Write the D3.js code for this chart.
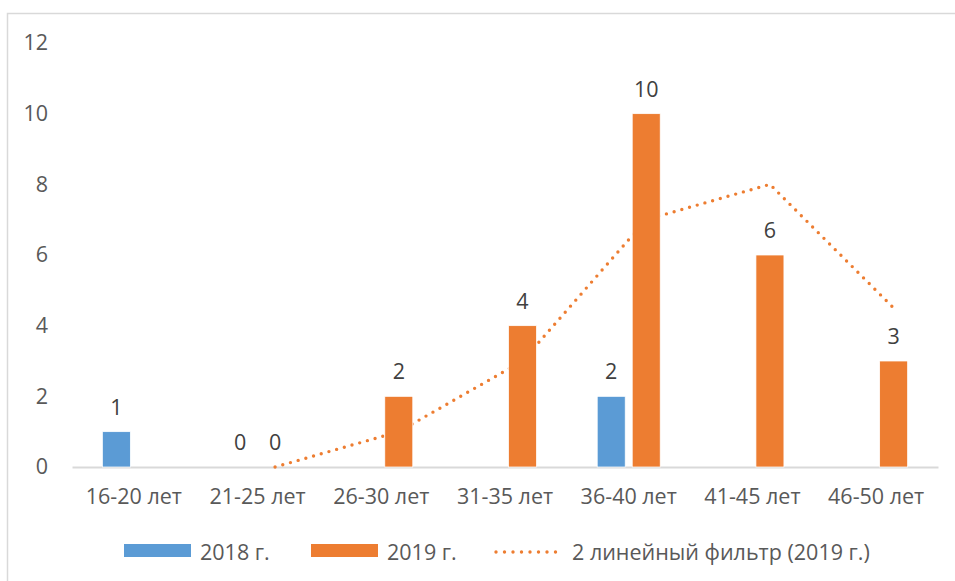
<!DOCTYPE html>
<html>
<head>
<meta charset="utf-8">
<script src="https://cdn.jsdelivr.net/npm/d3@7"></script>
<style>
  body { margin: 0; background: #fff; }
  text { font-family: "Open Sans", sans-serif; }
</style>
</head>
<body>
<div id="chart"></div>
<script>
const categories = ['16-20 лет', '21-25 лет', '26-30 лет', '31-35 лет', '36-40 лет', '41-45 лет', '46-50 лет'];
const values2018 = [1, 0, null, null, 2, null, null];
const values2019 = [null, 0, 2, 4, 10, 6, 3];
// 2-period moving average of 2019 as shown on the chart
const trend2019 = [null, 0, 1, 3, 7, 8, 4.5];
const yTicks = [0, 2, 4, 6, 8, 10, 12];
const seriesNames = ['2018 г.', '2019 г.'];
const trendName = '2 линейный фильтр (2019 г.)';
const colors = ['#5b9bd5', '#ed7d31'];

const width = 955, height = 581;
const margin = { left: 72, right: 17, top: 43, bottom: 114 };
const fontSize = '21.5px';

const svg = d3.select('#chart').append('svg')
  .attr('width', width)
  .attr('height', height);

// chart area border
svg.append('rect')
  .attr('x', 7.5).attr('y', 13.5)
  .attr('width', width + 10).attr('height', height + 10)
  .attr('fill', 'none')
  .attr('stroke', '#d9d9d9')
  .attr('stroke-width', 1.5);

const x0 = d3.scaleBand()
  .domain(categories)
  .range([margin.left, width - margin.right]);

const x1 = d3.scaleBand()
  .domain(seriesNames)
  .range([0, 63])
  .paddingInner(0.2);

const groupOffset = (x0.bandwidth() - 63) / 2;

const y = d3.scaleLinear()
  .domain([0, 12])
  .range([height - margin.bottom, margin.top]);

// y axis labels, no line
const yAxis = svg.append('g')
  .attr('transform', `translate(${margin.left - 10}, 0)`)
  .call(d3.axisLeft(y).tickValues(yTicks).tickSize(0).tickPadding(14));
yAxis.select('.domain').remove();
yAxis.selectAll('text')
  .attr('fill', '#595959')
  .style('font-size', fontSize)
  .style('font-family', '"Open Sans", sans-serif');

// x axis
const xAxis = svg.append('g')
  .attr('transform', `translate(0, ${y(0)})`)
  .call(d3.axisBottom(x0).tickSize(0).tickPadding(22));
xAxis.select('.domain').attr('stroke', '#d9d9d9').attr('stroke-width', 2);
xAxis.selectAll('text')
  .attr('fill', '#595959')
  .style('font-size', fontSize)
  .style('font-family', '"Open Sans", sans-serif');

// trend line (drawn under the bars)
const trendPts = categories.map((c, i) => ({ c, v: trend2019[i] })).filter(d => d.v !== null);
const line = d3.line()
  .x(d => x0(d.c) + groupOffset + x1('2019 г.') + x1.bandwidth() / 2)
  .y(d => y(d.v));

svg.append('path')
  .datum(trendPts)
  .attr('d', line)
  .attr('fill', 'none')
  .attr('stroke', colors[1])
  .attr('stroke-width', 3.4)
  .attr('stroke-linecap', 'round')
  .attr('stroke-dasharray', '0 8');

// bars
const series = [values2018, values2019];
series.forEach((vals, si) => {
  const data = categories.map((c, i) => ({ c, v: vals[i] })).filter(d => d.v !== null);
  const g = svg.append('g');
  g.selectAll('rect')
    .data(data)
    .enter()
    .append('rect')
    .attr('x', d => x0(d.c) + groupOffset + x1(seriesNames[si]))
    .attr('y', d => y(d.v))
    .attr('width', x1.bandwidth())
    .attr('height', d => y(0) - y(d.v))
    .attr('fill', colors[si])
    .attr('stroke', '#fff')
    .attr('stroke-width', 0.75);
  g.selectAll('text')
    .data(data)
    .enter()
    .append('text')
    .attr('x', d => x0(d.c) + groupOffset + x1(seriesNames[si]) + x1.bandwidth() / 2)
    .attr('y', d => y(d.v) - 17)
    .attr('text-anchor', 'middle')
    .attr('fill', '#404040')
    .style('font-size', fontSize)
    .text(d => d.v);
});

// legend
const legend = svg.append('g').attr('transform', 'translate(0, 551)');
const legendItems = [
  { x: 124, type: 'bar', color: colors[0], label: seriesNames[0] },
  { x: 311, type: 'bar', color: colors[1], label: seriesNames[1] },
  { x: 496, type: 'line', color: colors[1], label: trendName }
];
legendItems.forEach(it => {
  if (it.type === 'bar') {
    legend.append('rect')
      .attr('x', it.x).attr('y', -7)
      .attr('width', 67).attr('height', 13)
      .attr('fill', it.color);
  } else {
    legend.append('line')
      .attr('x1', it.x).attr('x2', it.x + 68)
      .attr('y1', 1).attr('y2', 1)
      .attr('stroke', it.color)
      .attr('stroke-width', 3.4)
      .attr('stroke-linecap', 'round')
      .attr('stroke-dasharray', '0 8.5');
  }
  legend.append('text')
    .attr('x', it.x + 76)
    .attr('y', 1)
    .attr('dy', '0.35em')
    .attr('fill', '#595959')
    .style('font-size', fontSize)
    .text(it.label);
});
</script>
</body>
</html>
